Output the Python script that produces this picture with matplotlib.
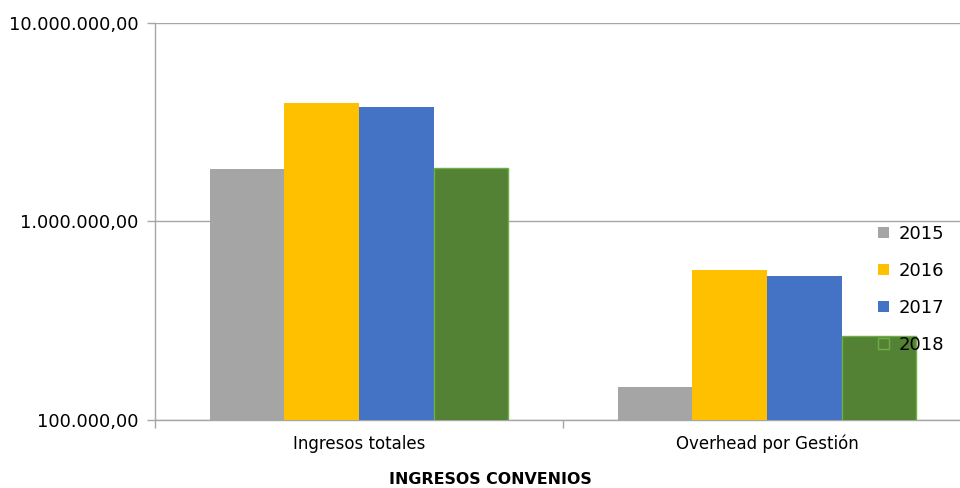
import numpy as np
import matplotlib
matplotlib.use("Agg")
import matplotlib.pyplot as plt
from matplotlib.ticker import FixedLocator, FuncFormatter

# data
categories = ["Ingresos totales", "Overhead por Gestión"]
years = ["2015", "2016", "2017", "2018"]
v2015 = [1839000, 146600]
v2016 = [3954000, 569700]
v2017 = [3775000, 531300]
v2018 = [1860000, 265000]
series = [v2015, v2016, v2017, v2018]

colors = ["#a5a5a5", "#ffc000", "#4472c4", "#548235"]
edges = ["#a5a5a5", "#ffc000", "#4472c4", "#70ad47"]
grid_col = "#a6a6a6"

plt.rcParams["font.family"] = ["DejaVu Sans"]

fig = plt.figure(figsize=(9.6, 4.88), dpi=100)
# plot area runs past the right edge of the image, like the reference crop
ax = fig.add_axes([155 / 960, 68 / 488, 816 / 960, 397.5 / 488])

x = np.arange(len(categories))
w = 0.1826
for i, vals in enumerate(series):
    ax.bar(x + (i - 1.5) * w, vals, width=w, color=colors[i],
           edgecolor=edges[i], linewidth=1.0 if i == 3 else 0,
           label=years[i], zorder=3)

ax.set_yscale("log")
ax.set_ylim(1e5, 1e7)
ax.set_xlim(-0.5, 1.5)

ax.yaxis.set_major_locator(FixedLocator([1e5, 1e6, 1e7]))
ax.yaxis.set_minor_locator(FixedLocator([]))
ax.yaxis.set_major_formatter(FuncFormatter(
    lambda v, p: f"{v:,.2f}".replace(",", "X").replace(".", ",").replace("X", ".")))
ax.tick_params(axis="y", which="major", length=6, width=1, color=grid_col,
               pad=6, labelsize=12.8, labelcolor="#000000")
ax.grid(axis="y", which="major", color=grid_col, linewidth=1, zorder=0)

ax.set_xticks(x)
ax.set_xticklabels(categories)
ax.set_xticks([-0.5, 0.5, 1.5], minor=True)
ax.tick_params(axis="x", which="major", length=0, pad=10.5, labelsize=12)
ax.tick_params(axis="x", which="minor", length=6, width=1, color=grid_col)

for s in ["top", "right"]:
    ax.spines[s].set_visible(False)
ax.spines["left"].set_color(grid_col)
ax.spines["bottom"].set_color(grid_col)
ax.spines["left"].set_linewidth(1)
ax.spines["bottom"].set_linewidth(1)

fig.text(490 / 960, 1 - 480 / 488, "INGRESOS CONVENIOS", ha="center",
         va="center", fontsize=11.4, fontweight="bold")

leg = ax.legend(loc="upper left", bbox_to_anchor=(878 / 960, 1 - 225 / 488),
                bbox_transform=fig.transFigure, frameon=False, fontsize=13,
                handlelength=0.62, handleheight=0.62, handletextpad=0.5,
                labelspacing=1.05, borderpad=0, borderaxespad=0)

fig.savefig("out.png", dpi=100)
